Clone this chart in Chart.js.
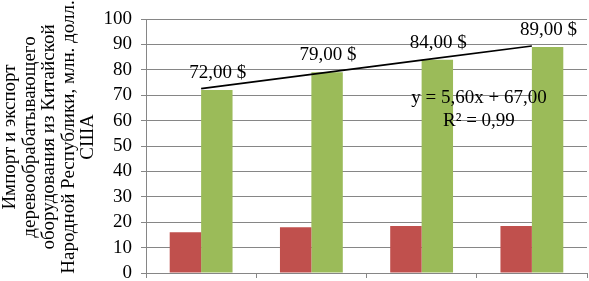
<!DOCTYPE html>
<html>
<head>
<meta charset="utf-8">
<script src="https://cdn.jsdelivr.net/npm/chart.js@4"></script>
<style>
  html, body { margin: 0; padding: 0; background: #ffffff; }
  #wrap { width: 589px; height: 281px; }
</style>
</head>
<body>
<div id="wrap"><canvas id="c" width="589" height="281"></canvas></div>
<script>
const categories = ['1', '2', '3', '4'];
const redValues = [16, 18, 18.5, 18.5];
const greenValues = [72, 79, 84, 89];
const trendValues = [72.6, 78.2, 83.8, 89.4];
const greenLabels = ['72,00 $', '79,00 $', '84,00 $', '89,00 $'];
const yTicks = [0, 10, 20, 30, 40, 50, 60, 70, 80, 90, 100];
const equationLines = ['y = 5,60x + 67,00', 'R² = 0,99'];
const yTitleLines = [
  'Импорт и экспорт',
  'деревообрабатывающего',
  'оборудования из Китайской',
  'Народной Республики, млн. долл.',
  'США'
];

const FONT = "'Liberation Serif', 'Times New Roman', serif";
const GRID = '#868686';

const overlayPlugin = {
  id: 'overlay',
  afterDatasetsDraw(chart) {
    const ctx = chart.ctx;
    const area = chart.chartArea;
    ctx.save();
    ctx.fillStyle = '#000';
    ctx.font = '19px ' + FONT;
    ctx.textAlign = 'center';
    ctx.textBaseline = 'middle';
    const meta = chart.getDatasetMeta(1);
    meta.data.forEach((bar, i) => {
      ctx.fillText(greenLabels[i], bar.x + 1, bar.y - 17);
    });
    const ex = area.left + (area.right - area.left) * 0.755;
    const ey = chart.scales.y.getPixelForValue(69.0);
    ctx.fillText(equationLines[0], ex, ey);
    ctx.fillText(equationLines[1], ex, ey + 23);
    ctx.restore();
  },
  afterDraw(chart) {
    const ctx = chart.ctx;
    ctx.save();
    ctx.fillStyle = '#000';
    ctx.font = '19px ' + FONT;
    ctx.textAlign = 'center';
    ctx.textBaseline = 'middle';
    const cy = 137;
    yTitleLines.forEach((line, i) => {
      ctx.save();
      ctx.translate(10 + i * 19.6, cy);
      ctx.rotate(-Math.PI / 2);
      ctx.fillText(line, 0, 0);
      ctx.restore();
    });
    ctx.restore();
  }
};

new Chart(document.getElementById('c'), {
  type: 'bar',
  data: {
    labels: categories,
    datasets: [
      {
        label: 'red',
        data: redValues,
        backgroundColor: '#C0504D',
        categoryPercentage: 0.57,
        barPercentage: 1.0,
        order: 2
      },
      {
        label: 'green',
        data: greenValues,
        backgroundColor: '#9BBB59',
        categoryPercentage: 0.57,
        barPercentage: 1.0,
        order: 2
      },
      {
        type: 'line',
        label: 'trend',
        data: trendValues,
        borderColor: '#000000',
        borderWidth: 1.6,
        pointRadius: 0,
        fill: false,
        order: 1
      }
    ]
  },
  options: {
    responsive: false,
    animation: false,
    devicePixelRatio: 1,
    layout: { padding: { top: 19, right: 2, bottom: 3, left: 0 } },
    plugins: {
      legend: { display: false },
      tooltip: { enabled: false },
      title: { display: false }
    },
    scales: {
      x: {
        grid: {
          display: true,
          drawOnChartArea: false,
          drawTicks: true,
          tickLength: 5,
          color: GRID,
          offset: true
        },
        border: { color: GRID, width: 1 },
        ticks: { display: false },
        afterFit(scale) { scale.height = 5; }
      },
      y: {
        min: 0,
        max: 100,
        afterBuildTicks(scale) {
          scale.ticks = yTicks.map(v => ({ value: v }));
        },
        afterFit(scale) {
          scale.width = 146;
          scale.paddingTop = 0;
          scale.paddingBottom = 0;
        },
        grid: { color: GRID, tickLength: 5, lineWidth: 1 },
        border: { color: GRID, width: 1 },
        ticks: {
          color: '#000',
          padding: 9,
          autoSkip: false,
          font: { family: FONT, size: 19 }
        }
      }
    }
  },
  plugins: [overlayPlugin]
});
</script>
</body>
</html>
